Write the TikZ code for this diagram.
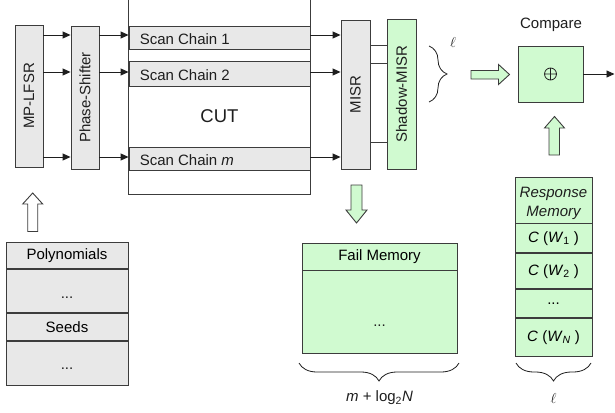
\documentclass[tikz,border=0pt]{standalone}
\usepackage{fontspec}
\setmainfont{Liberation Sans}
\usetikzlibrary{arrows.meta,decorations.pathreplacing}
\definecolor{boxgray}{RGB}{232,232,232}
\definecolor{boxgreen}{RGB}{208,250,208}
\definecolor{edge}{RGB}{60,60,60}
\definecolor{ink}{RGB}{30,30,30}
\tikzset{
  blk/.style={draw=edge, line width=0.9pt, rectangle, inner sep=0pt},
  graybox/.style={blk, fill=boxgray},
  greenbox/.style={blk, fill=boxgreen},
  arr/.style={draw=ink, line width=0.9pt, -{Triangle[length=8pt,width=7pt]}},
  plainline/.style={draw=edge, line width=0.9pt},
  fatarrow/.style={draw=edge, line width=0.9pt, line join=miter},
  bracedeco/.style={draw=ink, line width=0.8pt, decorate, decoration={brace, amplitude=18pt}},
  txt/.style={inner sep=0pt, text=ink}
}
\begin{document}
\begin{tikzpicture}[x=1pt, y=-1pt, font=\fontsize{15}{18}\selectfont]
\useasboundingbox (0,0) rectangle (615,412);

% ---------- CUT and scan chains ----------
\node[blk, draw=none, fill=white, minimum width=181pt, minimum height=194pt] (cut) at (219.5,97) {};
\draw[plainline] (cut.north west) -- (cut.south west) -- (cut.south east) -- (cut.north east);
\node[graybox, minimum width=181pt, minimum height=23pt] (sc1) at (219.5,37.5) {};
\node[graybox, minimum width=181pt, minimum height=25pt] (sc2) at (219.5,74.3) {};
\node[graybox, minimum width=181pt, minimum height=23pt] (scm) at (219.5,159.3) {};
\node[txt, anchor=west] (sc1t) at ([xshift=11pt,yshift=-1.3pt]sc1.west) {Scan Chain 1};
\node[txt, anchor=west] (sc2t) at ([xshift=11pt,yshift=-1.3pt]sc2.west) {Scan Chain 2};
\node[txt, anchor=west] (scmt) at ([xshift=11pt,yshift=-1.3pt]scm.west) {Scan Chain \textit{m}};
\node[txt, font=\fontsize{18.5}{20}\selectfont] (cutlabel) at (219.5,116) {CUT};

% ---------- generator ----------
\node[graybox, minimum width=28pt, minimum height=142pt] (lfsr) at (29,96) {};
\node[txt, rotate=90] (lfsrt) at (lfsr.center) {MP-LFSR};
\node[graybox, minimum width=28pt, minimum height=143pt] (ps) at (85,97.5) {};
\node[txt, rotate=90] (pst) at (ps.center) {Phase-Shifter};

% ---------- compactor ----------
\node[graybox, minimum width=29pt, minimum height=149pt] (misr) at (355.5,94.5) {};
\node[txt, rotate=90] (misrt) at (misr.center) {MISR};
\node[greenbox, minimum width=29pt, minimum height=150pt] (shadow) at (401.5,94) {};
\node[txt, rotate=90] (shadowt) at (shadow.center) {Shadow-MISR};

% row coordinates
\coordinate (r1) at (0,35);
\coordinate (r2) at (0,72);
\coordinate (r3) at (0,157);
\foreach \r in {r1,r2,r3}{
  \draw[arr] (lfsr.east |- \r) -- (ps.west |- \r);
  \draw[arr] (ps.east |- \r) -- (cut.west |- \r);
  \draw[arr] (cut.east |- \r) -- (misr.west |- \r);
}
\coordinate (m1) at (0,45);
\coordinate (m2) at (0,63);
\coordinate (m3) at (0,142);
\foreach \m in {m1,m2,m3}{
  \draw[plainline] (misr.east |- \m) -- (shadow.west |- \m);
}

% brace l
\coordinate (bt) at (429,46);
\coordinate (bb) at (429,102);
\draw[bracedeco] (bt) -- (bb);
\node[txt] (ell1) at (453,43) {$\ell$};

% ---------- compare ----------
\node[greenbox, minimum width=65pt, minimum height=56pt] (cmp) at (550.5,74) {};
\draw[draw=ink, line width=0.8pt] (cmp.center) circle (6pt)
  ([xshift=-6pt]cmp.center) -- ([xshift=6pt]cmp.center)
  ([yshift=-6pt]cmp.center) -- ([yshift=6pt]cmp.center);
\node[txt] (cmpt) at (551,25) {Compare};
\coordinate (outend) at (614.5,74);
\draw[arr] (cmp.east) -- (outend);

% fat arrow right
\draw[fatarrow, fill=boxgreen] (471,70.5) -- (498.5,70.5) -- (498.5,64.5) -- (509.5,74.5)
  -- (498.5,84.5) -- (498.5,79) -- (471,79) -- cycle;
% fat arrow up (to compare)
\draw[fatarrow, fill=boxgreen] (549,155) -- (549,128) -- (544.5,128) -- (554.5,116.5)
  -- (564.5,128) -- (559.5,128) -- (559.5,155) -- cycle;
% fat arrow down (to fail memory)
\draw[fatarrow, fill=boxgreen] (351,185) -- (351,210) -- (346,210) -- (356.5,223)
  -- (367,210) -- (362,210) -- (362,185) -- cycle;
% hollow arrow up (from seeds)
\draw[fatarrow, fill=white] (27.7,231.5) -- (27.7,204) -- (22.7,204) -- (32.7,193)
  -- (42.7,204) -- (37.7,204) -- (37.7,231.5) -- cycle;

% ---------- response memory ----------
\node[greenbox, minimum width=77pt, minimum height=46pt] (rhead) at (553.5,200) {};
\node[txt, align=center, font=\fontsize{15}{18.5}\itshape] (rheadt) at ([yshift=-3.5pt]rhead.center) {Response\\Memory};
\node[greenbox, minimum width=77pt, minimum height=29pt, anchor=north] (rc1) at (rhead.south) {\textit{C} (\textit{W}\textsubscript{1} )};
\node[greenbox, minimum width=77pt, minimum height=35pt, anchor=north] (rc2) at (rc1.south) {\textit{C} (\textit{W}\textsubscript{2} )};
\node[greenbox, minimum width=77pt, minimum height=28pt, anchor=north] (rdots) at (rc2.south) {...};
\node[greenbox, minimum width=77pt, minimum height=38pt, anchor=north] (rcn) at (rdots.south) {\textit{C} (\textit{W}\textsubscript{\textit{N}} )};
\coordinate (rbl) at (516,363);
\coordinate (rbr) at (591,363);
\draw[bracedeco] (rbr) -- (rbl);
\node[txt] (ell2) at (553.5,398) {$\ell$};

% ---------- fail memory ----------
\node[greenbox, minimum width=155pt, minimum height=27pt] (fhead) at (379.5,256.5) {Fail Memory};
\node[greenbox, minimum width=155pt, minimum height=83pt, anchor=north] (fbody) at (fhead.south) {};
\node[txt, anchor=base] (fdots) at (379.5,326) {...};
\coordinate (fbl) at (299,363);
\coordinate (fbr) at (459,363);
\draw[bracedeco] (fbr) -- (fbl);
\node[txt] (flabel) at (379.5,398) {\textit{m} + log\textsubscript{2}\textit{N}};

% ---------- polynomials / seeds ----------
\node[graybox, minimum width=122pt, minimum height=26pt] (poly) at (67,255.3) {Polynomials};
\node[graybox, minimum width=122pt, minimum height=43.5pt, anchor=north] (pdots) at (poly.south) {};
\node[graybox, minimum width=122pt, minimum height=27.3pt, anchor=north] (seeds) at (pdots.south) {Seeds};
\node[graybox, minimum width=122pt, minimum height=43.3pt, anchor=north] (sdots) at (seeds.south) {};
\node[txt, anchor=base] (pdotst) at (67,298) {...};
\node[txt, anchor=base] (sdotst) at (67,369) {...};
\end{tikzpicture}
\end{document}
